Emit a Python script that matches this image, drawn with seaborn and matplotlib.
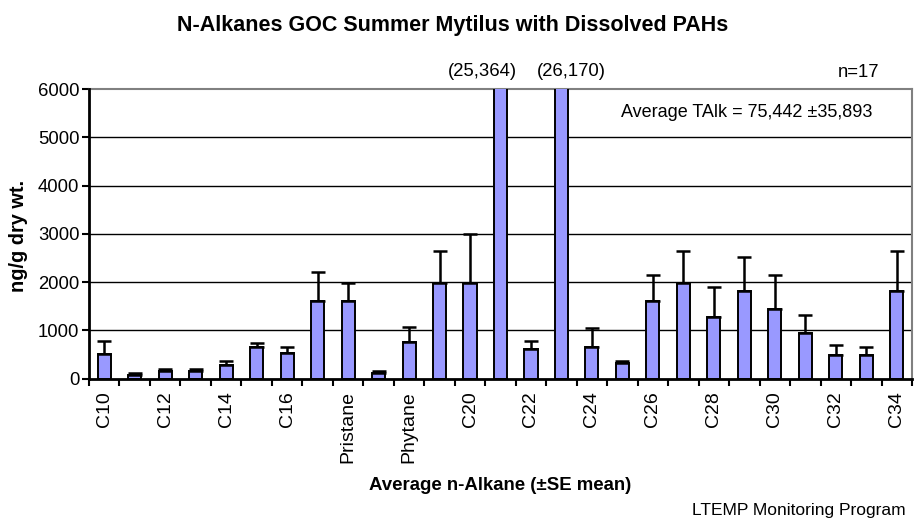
import matplotlib
matplotlib.use("Agg")
import matplotlib.pyplot as plt
import matplotlib.transforms as mtransforms
import numpy as np
import pandas as pd
import seaborn as sns

# Average n-alkane concentrations (ng/g dry wt.) with upper standard errors
categories = ["C10", "C11", "C12", "C13", "C14", "C15", "C16", "C17", "Pristane",
              "C18", "Phytane", "C19", "C20", "C21", "C22", "C23", "C24", "C25",
              "C26", "C27", "C28", "C29", "C30", "C31", "C32", "C33", "C34"]
means = [520, 75, 160, 160, 275, 650, 525, 1600, 1600,
         110, 770, 1980, 1980, 25364, 610, 26170, 650, 320,
         1600, 1980, 1270, 1810, 1440, 940, 485, 485, 1810]
se = [260, 40, 45, 45, 95, 95, 140, 600, 390,
      55, 300, 675, 1010, 0, 180, 0, 395, 55,
      545, 675, 635, 715, 710, 385, 220, 180, 840]
shown_labels = ["C10", "C12", "C14", "C16", "Pristane", "Phytane", "C20",
                "C22", "C24", "C26", "C28", "C30", "C32", "C34"]
y_ticks = [0, 1000, 2000, 3000, 4000, 5000, 6000]
y_max = 6000

sns.set_style("white")
plt.rcParams["font.family"] = ["Liberation Sans", "DejaVu Sans"]
plt.rcParams["text.color"] = "black"
plt.rcParams["axes.labelcolor"] = "black"
plt.rcParams["xtick.color"] = "black"
plt.rcParams["ytick.color"] = "black"

df = pd.DataFrame({"alkane": categories, "conc": means, "se": se})

W, H = 915, 522
fig = plt.figure(figsize=(W / 100, H / 100), dpi=100)
ax = fig.add_axes([89 / W, 1 - 378.7 / H, (912 - 89) / W, (378.7 - 89) / H])

sns.barplot(data=df, x="alkane", y="conc", order=categories, color="#9999FF",
            edgecolor="black", linewidth=1.4, width=0.43, saturation=1,
            errorbar=None, ax=ax, zorder=3)

# upper-only error bars (SE of the mean)
xpos = np.arange(len(categories))
ax.errorbar(xpos, df["conc"], yerr=[np.zeros(len(se)), df["se"]], fmt="none",
            ecolor="black", elinewidth=1.8, capsize=4.8, capthick=1.8, zorder=4)

ax.set_xlim(-0.5, len(categories) - 0.5)
ax.set_ylim(0, y_max)
ax.set_yticks(y_ticks)
ax.set_yticklabels([str(t) for t in y_ticks], fontsize=13.3)

# horizontal gridlines
for t in y_ticks[1:-1]:
    ax.axhline(t, color="black", lw=1.0, zorder=1)

# category labels on every other bar, tick marks on the boundaries
ax.set_xticks(xpos)
ax.set_xticklabels([c if c in shown_labels else "" for c in categories],
                   rotation=90, fontsize=14)
ax.tick_params(axis="x", which="major", length=0, pad=9)
ax.set_xticks(np.arange(-0.5, len(categories) + 0.5, 1), minor=True)
ax.tick_params(axis="x", which="minor", length=5, width=1.5, color="black",
               direction="out", bottom=True)
ax.tick_params(axis="y", which="major", length=5, width=1.5, color="black",
               direction="out", left=True, pad=2)

for side in ["left", "bottom"]:
    ax.spines[side].set_color("black")
    ax.spines[side].set_linewidth(2)
for side in ["top", "right"]:
    ax.spines[side].set_color("#808080")
    ax.spines[side].set_linewidth(1.5)
ax.spines["left"].set_zorder(5)
ax.spines["bottom"].set_zorder(5)

ax.set_xlabel("Average n-Alkane (±SE mean)", fontsize=13.4, fontweight="bold")
ax.xaxis.set_label_coords(0.5, (378.7 - 477) / 289.7)
ax.set_ylabel("ng/g dry wt.", fontsize=14.4, fontweight="bold")
ax.yaxis.set_label_coords((28 - 89) / 823, (378.7 - 236) / 289.7)

# values of bars that run off the scale
label_shift = {13: -0.59, 15: 0.33}
trans = mtransforms.blended_transform_factory(ax.transData, fig.transFigure)
for i, v in enumerate(means):
    if v > y_max:
        ax.text(i + label_shift.get(i, 0), 1 - 76 / H, f"({v:,})", transform=trans,
                ha="center", va="baseline", fontsize=13.3)

fig.text(859 / W, 1 - 77 / H, "n=17", ha="center", va="baseline", fontsize=13.3)
fig.text(621 / W, 1 - 117 / H, "Average TAlk = 75,442 ±35,893",
         ha="left", va="baseline", fontsize=13)

fig.text(452.5 / W, 1 - 31 / H, "N-Alkanes GOC Summer Mytilus with Dissolved PAHs",
         ha="center", va="baseline", fontsize=15.5, fontweight="bold")
fig.text(906 / W, 1 - 515 / H, "LTEMP Monitoring Program",
         ha="right", va="baseline", fontsize=12.5)

fig.savefig("out.png", dpi=100)
